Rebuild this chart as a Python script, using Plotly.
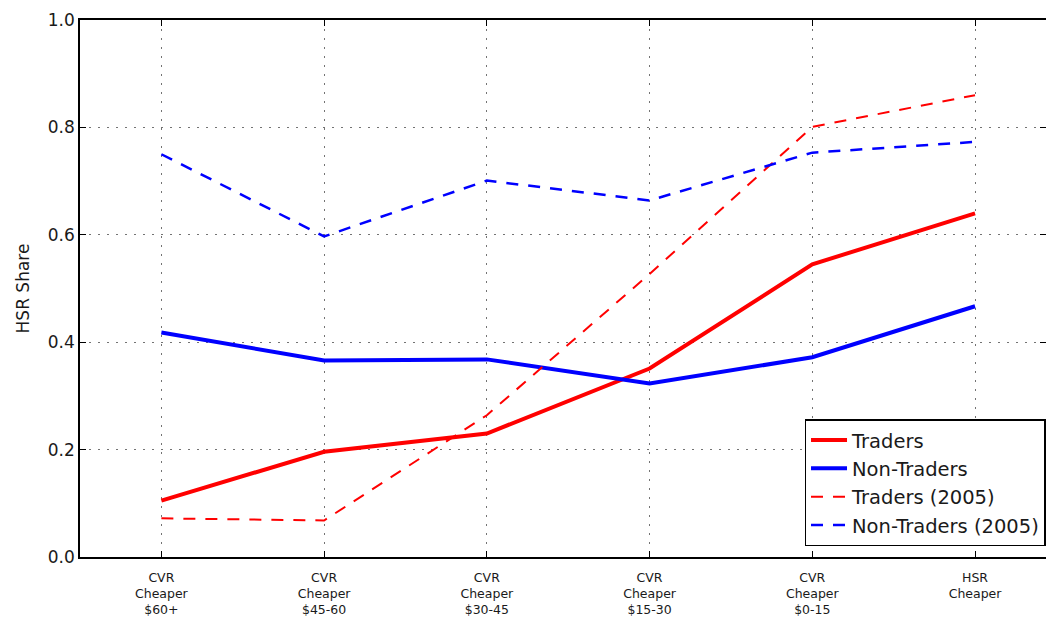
import plotly.graph_objects as go

# Price-gap categories (CVR vs HSR)
categories = [
    "CVR<br>Cheaper<br>$60+",
    "CVR<br>Cheaper<br>$45-60",
    "CVR<br>Cheaper<br>$30-45",
    "CVR<br>Cheaper<br>$15-30",
    "CVR<br>Cheaper<br>$0-15",
    "HSR<br>Cheaper",
]

# HSR share by group
traders = [0.105, 0.196, 0.230, 0.351, 0.545, 0.640]
non_traders = [0.418, 0.366, 0.368, 0.323, 0.372, 0.467]
traders_2005 = [0.072, 0.068, 0.264, 0.527, 0.801, 0.860]
non_traders_2005 = [0.750, 0.597, 0.701, 0.664, 0.753, 0.773]

y_ticks = [0.0, 0.2, 0.4, 0.6, 0.8, 1.0]

x_pos = list(range(len(categories)))

fig = go.Figure()
fig.add_trace(go.Scatter(x=x_pos, y=traders, mode="lines", name="Traders",
                         line=dict(color="#ff0000", width=4)))
fig.add_trace(go.Scatter(x=x_pos, y=non_traders, mode="lines", name="Non-Traders",
                         line=dict(color="#0000ff", width=4)))
fig.add_trace(go.Scatter(x=x_pos, y=traders_2005, mode="lines", name="Traders (2005)",
                         line=dict(color="#ff0000", width=2, dash="12px,10px")))
fig.add_trace(go.Scatter(x=x_pos, y=non_traders_2005, mode="lines", name="Non-Traders (2005)",
                         line=dict(color="#0000ff", width=2.5, dash="12px,10px")))

fig.update_layout(
    width=1046, height=617,
    margin=dict(l=80, r=0, t=20, b=60, autoexpand=False),
    paper_bgcolor="white", plot_bgcolor="white",
    font=dict(family="DejaVu Sans", color="#1a1a1a", size=16),
    showlegend=True,
    legend=dict(
        x=0.9995, xanchor="right", y=0.02, yanchor="bottom",
        bgcolor="white", bordercolor="black", borderwidth=1.5,
        font=dict(size=19.5, family="DejaVu Sans"),
        tracegroupgap=4, itemwidth=36,
    ),
)

fig.update_xaxes(
    tickmode="array", tickvals=x_pos, ticktext=categories,
    range=[-0.5, 5.436], automargin=False,
    showline=True, linecolor="black", linewidth=1.5, mirror="ticks",
    ticks="inside", ticklen=6, tickcolor="black", tickwidth=1,
    showgrid=True, gridcolor="rgba(0,0,0,0.55)", gridwidth=1, griddash="2px,7px",
    tickfont=dict(size=12.5, family="DejaVu Sans"),
    ticklabelstandoff=8,
    zeroline=False,
)
fig.update_yaxes(
    range=[0, 1.0], tickvals=y_ticks, ticktext=[f"{v:.1f}" for v in y_ticks],
    automargin=False,
    showline=True, linecolor="black", linewidth=1.5, mirror="ticks",
    ticks="inside", ticklen=6, tickcolor="black", tickwidth=1,
    showgrid=True, gridcolor="rgba(0,0,0,0.55)", gridwidth=1, griddash="2px,7px",
    tickfont=dict(size=17, family="DejaVu Sans"),
    title=dict(text="HSR Share", font=dict(size=17, family="DejaVu Sans"), standoff=14),
    zeroline=False,
)

fig.write_html("out.html")
